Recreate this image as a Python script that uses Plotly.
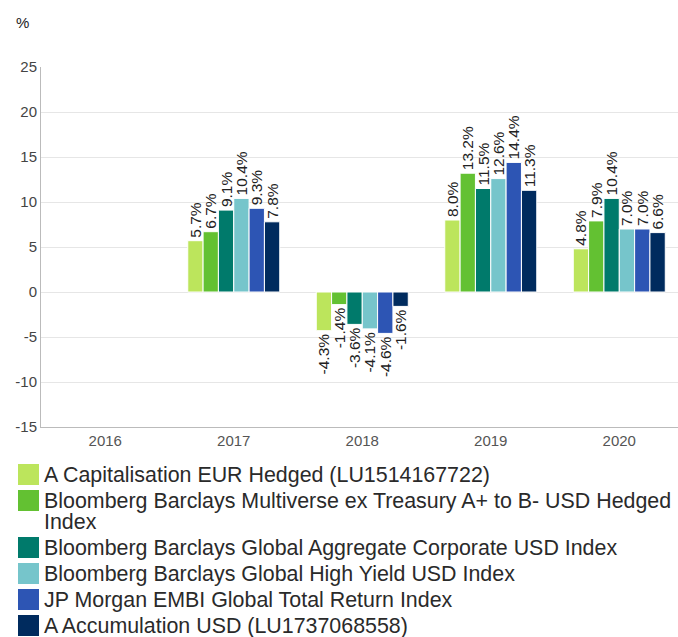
import plotly.graph_objects as go

years = ["2016", "2017", "2018", "2019", "2020"]
series_names = [
    "A Capitalisation EUR Hedged (LU1514167722)",
    "Bloomberg Barclays Multiverse ex Treasury A+ to B- USD Hedged<br>Index",
    "Bloomberg Barclays Global Aggregate Corporate USD Index",
    "Bloomberg Barclays Global High Yield USD Index",
    "JP Morgan EMBI Global Total Return Index",
    "A Accumulation USD (LU1737068558)",
]
s1 = [None, 5.7, -4.3, 8.0, 4.8]
s2 = [None, 6.7, -1.4, 13.2, 7.9]
s3 = [None, 9.1, -3.6, 11.5, 10.4]
s4 = [None, 10.4, -4.1, 12.6, 7.0]
s5 = [None, 9.3, -4.6, 14.4, 7.0]
s6 = [None, 7.8, -1.6, 11.3, 6.6]
colors = ["#bce55c", "#63c132", "#007a6b", "#76c5cb", "#2d55b4", "#002b5e"]
y_ticks = [-15, -10, -5, 0, 5, 10, 15, 20, 25]
y_tick_text = ["-15", "-10", "-5", "0", "5", "10", "15", "20", "25"]

FONT = "Liberation Sans, Arial, sans-serif"
W, H = 678, 637

fig = go.Figure()
for name, vals, col in zip(series_names, [s1, s2, s3, s4, s5, s6], colors):
    fig.add_trace(go.Bar(
        x=years, y=vals, name=name, showlegend=False,
        marker=dict(color=col, line=dict(color="white", width=1)),
        text=[None if v is None else f"{v:.1f}%" for v in vals],
        textposition="outside", textangle=-90, constraintext="none",
        textfont=dict(size=15.5, color="#222222", family=FONT),
        cliponaxis=False,
    ))

# plot area geometry (px) used to place the custom legend
PL, PW, PT, PH = 41, 637, 67, 360
def px_x(fx):
    return (fx - PL) / PW
def px_y(fy):
    return (PT + PH - fy) / PH

shapes = []
annotations = [dict(text="%", xref="paper", yref="paper", x=px_x(14), y=px_y(22),
                    xanchor="left", yanchor="middle", showarrow=False,
                    font=dict(size=15, color="#222222", family=FONT))]

row_y = 474.5
for name, col in zip(series_names, colors):
    lines = name.split("<br>")
    shapes.append(dict(type="rect", xref="paper", yref="paper",
                       x0=px_x(18), x1=px_x(39), y0=px_y(row_y - 10.5), y1=px_y(row_y + 10.5),
                       fillcolor=col, line=dict(width=0), layer="above"))
    for j, line in enumerate(lines):
        annotations.append(dict(text=line, xref="paper", yref="paper",
                                x=px_x(44), y=px_y(row_y + 21 * j),
                                xanchor="left", yanchor="middle", showarrow=False,
                                borderpad=0, borderwidth=0,
                                font=dict(size=21.4, color="#2a2a2a", family=FONT)))
    row_y += 26 + 21 * (len(lines) - 1)

fig.update_layout(
    width=W, height=H,
    margin=dict(l=PL, r=W - PL - PW, t=PT, b=H - PT - PH, autoexpand=False),
    paper_bgcolor="white", plot_bgcolor="white",
    barmode="group", bargap=0.284, bargroupgap=0,
    font=dict(family=FONT, size=15, color="#444444"),
    xaxis=dict(type="category", range=[-0.5, 4.457], showline=True,
               linecolor="#bbbbbb", linewidth=1,
               ticks="", tickfont=dict(size=15, color="#555555"), showgrid=False,
               automargin=False),
    yaxis=dict(range=[-15, 25], tickvals=y_ticks, ticktext=y_tick_text,
               showgrid=True, gridcolor="#e6e6e6",
               zeroline=True, zerolinecolor="#e6e6e6", zerolinewidth=1,
               showline=True, linecolor="#bbbbbb", linewidth=1, ticks="",
               tickfont=dict(size=15, color="#444444"), automargin=False),
    showlegend=False,
    shapes=shapes,
    annotations=annotations,
)

fig.write_html(
    "out.html",
    config={"displayModeBar": False},
    post_script="document.body.style.margin='0';document.body.style.overflow='hidden';",
)
